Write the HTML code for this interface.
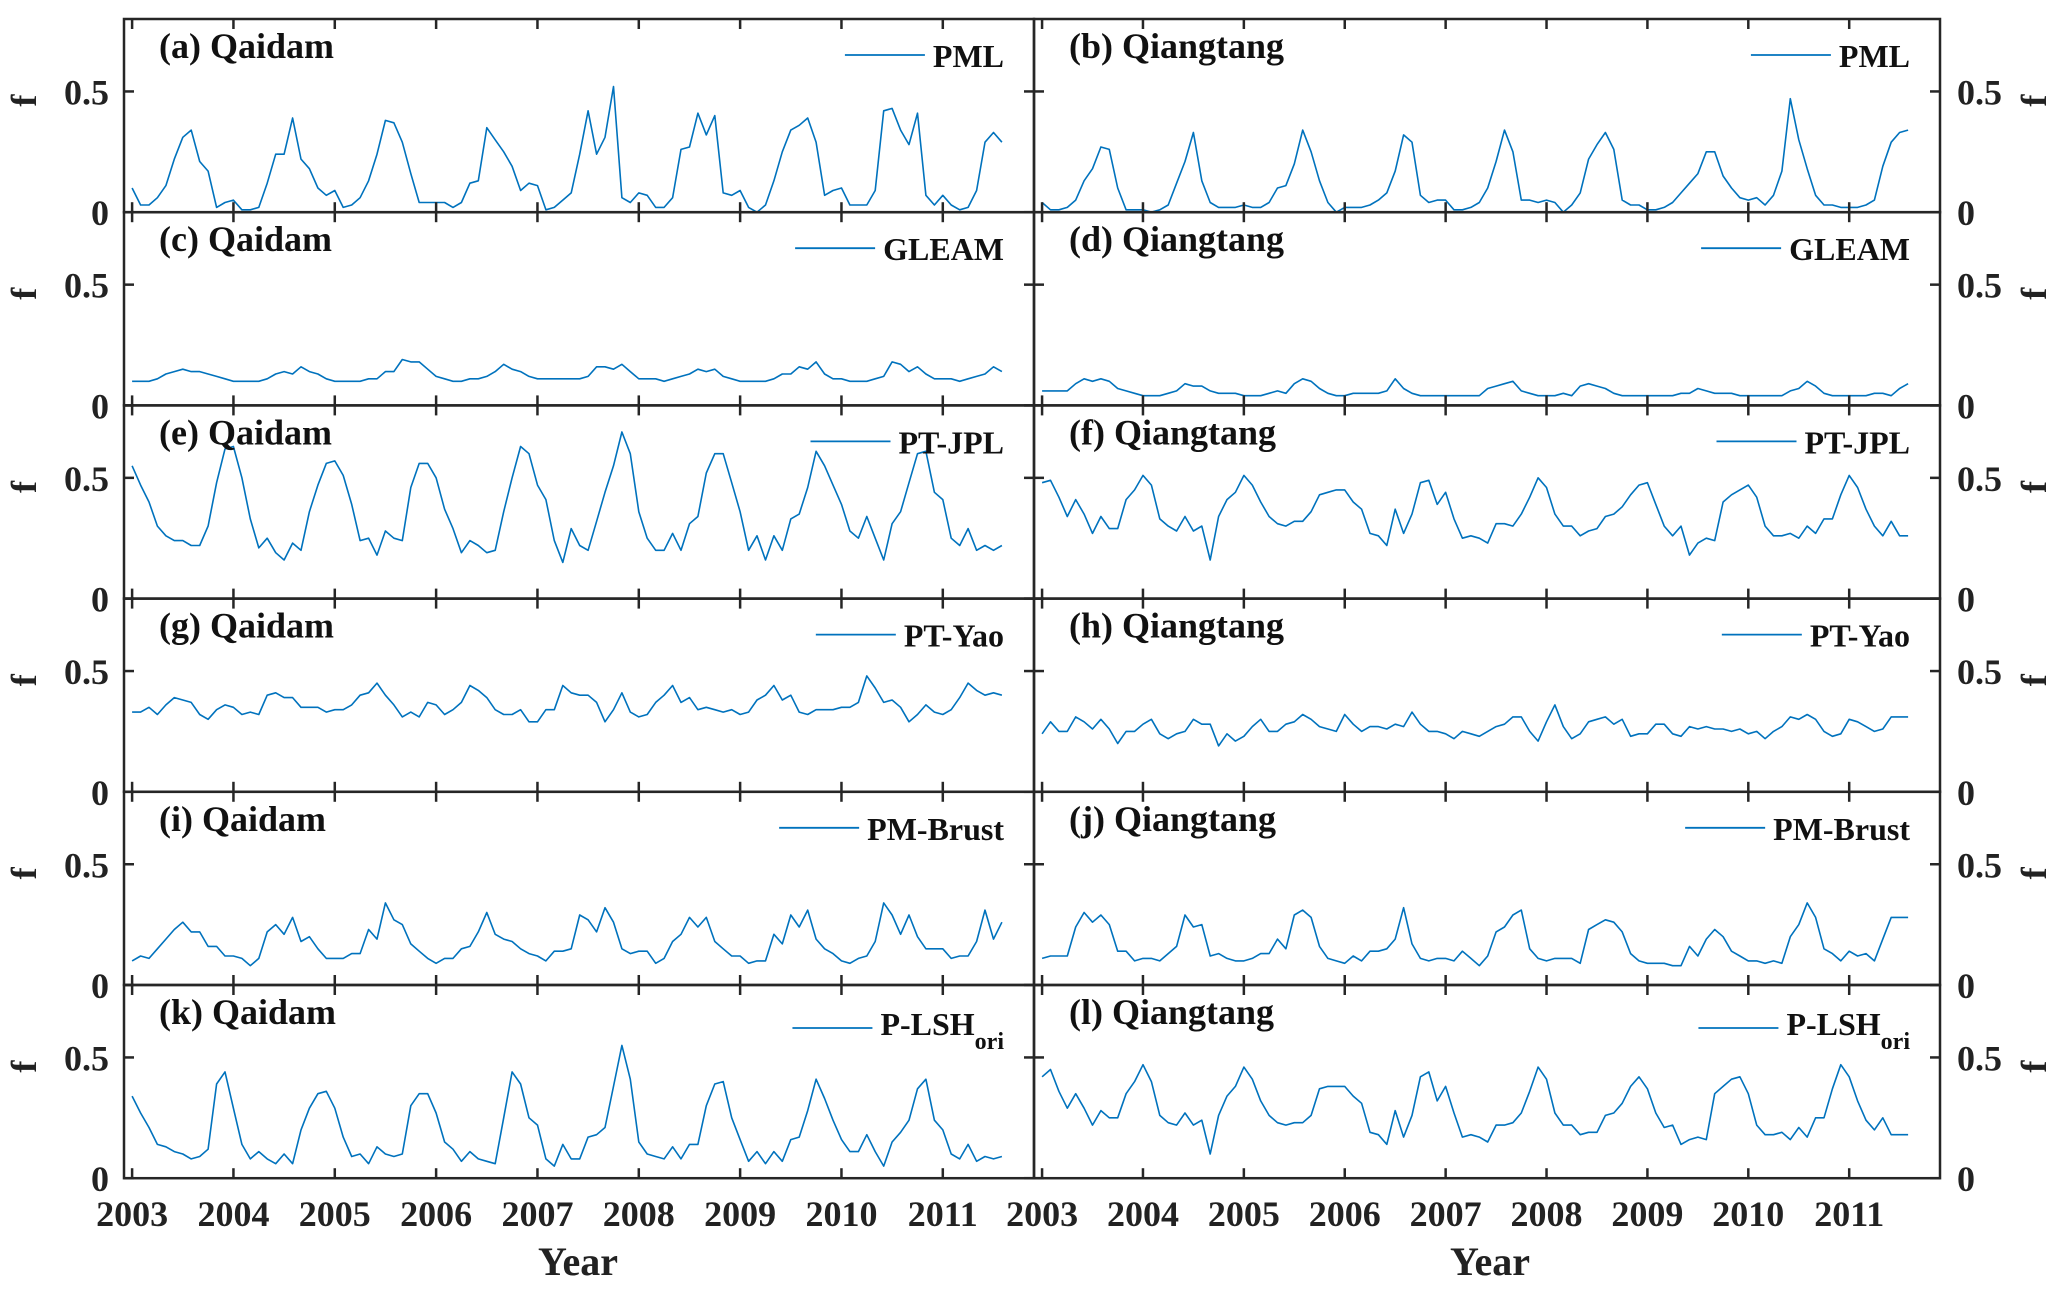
<!DOCTYPE html>
<html><head><meta charset="utf-8"><title>f time series</title>
<style>
html,body{margin:0;padding:0;background:#fff;}
svg{display:block;}
svg text{font-family:"Liberation Serif","Times New Roman","DejaVu Serif",serif;font-weight:bold;}
</style></head>
<body>
<svg id="chart" width="2067" height="1294" viewBox="0 0 2067 1294" xmlns="http://www.w3.org/2000/svg" font-family="Liberation Serif, DejaVu Serif, serif" font-weight="bold"></svg>
<script>
const yearTicks = [2003,2004,2005,2006,2007,2008,2009,2010,2011];
const yTicks = [0, 0.5];
const yTickLabels = ["0", "0.5"];
const panelLabels = ["(a) Qaidam","(b) Qiangtang","(c) Qaidam","(d) Qiangtang","(e) Qaidam","(f) Qiangtang","(g) Qaidam","(h) Qiangtang","(i) Qaidam","(j) Qiangtang","(k) Qaidam","(l) Qiangtang"];
const legendNames = ["PML","GLEAM","PT-JPL","PT-Yao","PM-Brust","P-LSH"];

const pmlQaidam = [.10,.03,.03,.06,.11,.22,.31,.34,.21,.17,.02,.04, .05,.01,.01,.02,.12,.24,.24,.39,.22,.18,.10,.07, .09,.02,.03,.06,.13,.24,.38,.37,.29,.16,.04,.04, .04,.04,.02,.04,.12,.13,.35,.30,.25,.19,.09,.12, .11,.01,.02,.05,.08,.24,.42,.24,.31,.52,.06,.04, .08,.07,.02,.02,.06,.26,.27,.41,.32,.40,.08,.07, .09,.02,.00,.03,.13,.25,.34,.36,.39,.29,.07,.09, .10,.03,.03,.03,.09,.42,.43,.34,.28,.41,.07,.03, .07,.03,.01,.02,.09,.29,.33,.29];
const pmlQiangtang = [.04,.01,.01,.02,.05,.13,.18,.27,.26,.10,.01,.01, .01,.00,.01,.03,.12,.21,.33,.13,.04,.02,.02,.02, .03,.02,.02,.04,.10,.11,.20,.34,.25,.13,.04,.00, .02,.02,.02,.03,.05,.08,.17,.32,.29,.07,.04,.05, .05,.01,.01,.02,.04,.10,.21,.34,.25,.05,.05,.04, .05,.04,.00,.03,.08,.22,.28,.33,.26,.05,.03,.03, .01,.01,.02,.04,.08,.12,.16,.25,.25,.15,.10,.06, .05,.06,.03,.07,.17,.47,.30,.18,.07,.03,.03,.02, .02,.02,.03,.05,.19,.29,.33,.34];
const gleamQaidam = [.10,.10,.10,.11,.13,.14,.15,.14,.14,.13,.12,.11, .10,.10,.10,.10,.11,.13,.14,.13,.16,.14,.13,.11, .10,.10,.10,.10,.11,.11,.14,.14,.19,.18,.18,.15, .12,.11,.10,.10,.11,.11,.12,.14,.17,.15,.14,.12, .11,.11,.11,.11,.11,.11,.12,.16,.16,.15,.17,.14, .11,.11,.11,.10,.11,.12,.13,.15,.14,.15,.12,.11, .10,.10,.10,.10,.11,.13,.13,.16,.15,.18,.13,.11, .11,.10,.10,.10,.11,.12,.18,.17,.14,.16,.13,.11, .11,.11,.10,.11,.12,.13,.16,.14];
const gleamQiangtang = [.06,.06,.06,.06,.09,.11,.10,.11,.10,.07,.06,.05, .04,.04,.04,.05,.06,.09,.08,.08,.06,.05,.05,.05, .04,.04,.04,.05,.06,.05,.09,.11,.10,.07,.05,.04, .04,.05,.05,.05,.05,.06,.11,.07,.05,.04,.04,.04, .04,.04,.04,.04,.04,.07,.08,.09,.10,.06,.05,.04, .04,.04,.05,.04,.08,.09,.08,.07,.05,.04,.04,.04, .04,.04,.04,.04,.05,.05,.07,.06,.05,.05,.05,.04, .04,.04,.04,.04,.04,.06,.07,.10,.08,.05,.04,.04, .04,.04,.04,.05,.05,.04,.07,.09];
const jplQaidam = [.55,.47,.40,.30,.26,.24,.24,.22,.22,.30,.48,.62, .63,.50,.33,.21,.25,.19,.16,.23,.20,.36,.47,.56, .57,.51,.39,.24,.25,.18,.28,.25,.24,.46,.56,.56, .50,.37,.29,.19,.24,.22,.19,.20,.36,.50,.63,.60, .47,.41,.24,.15,.29,.22,.20,.32,.44,.55,.69,.60, .36,.25,.20,.20,.27,.20,.31,.34,.52,.60,.60,.48, .36,.20,.26,.16,.26,.20,.33,.35,.46,.61,.55,.47, .39,.28,.25,.34,.25,.16,.31,.36,.48,.60,.61,.44, .41,.25,.22,.29,.20,.22,.20,.22];
const jplQiangtang = [.48,.49,.42,.34,.41,.35,.27,.34,.29,.29,.41,.45, .51,.47,.33,.30,.28,.34,.28,.30,.16,.34,.41,.44, .51,.47,.40,.34,.31,.30,.32,.32,.36,.43,.44,.45, .45,.40,.37,.27,.26,.22,.37,.27,.35,.48,.49,.39, .44,.33,.25,.26,.25,.23,.31,.31,.30,.35,.42,.50, .46,.35,.30,.30,.26,.28,.29,.34,.35,.38,.43,.47, .48,.39,.30,.26,.30,.18,.23,.25,.24,.40,.43,.45, .47,.42,.30,.26,.26,.27,.25,.30,.27,.33,.33,.43, .51,.46,.37,.30,.26,.32,.26,.26];
const yaoQaidam = [.33,.33,.35,.32,.36,.39,.38,.37,.32,.30,.34,.36, .35,.32,.33,.32,.40,.41,.39,.39,.35,.35,.35,.33, .34,.34,.36,.40,.41,.45,.40,.36,.31,.33,.31,.37, .36,.32,.34,.37,.44,.42,.39,.34,.32,.32,.34,.29, .29,.34,.34,.44,.41,.40,.40,.37,.29,.34,.41,.33, .31,.32,.37,.40,.44,.37,.39,.34,.35,.34,.33,.34, .32,.33,.38,.40,.44,.38,.40,.33,.32,.34,.34,.34, .35,.35,.37,.48,.43,.37,.38,.35,.29,.32,.36,.33, .32,.34,.39,.45,.42,.40,.41,.40];
const yaoQiangtang = [.24,.29,.25,.25,.31,.29,.26,.30,.26,.20,.25,.25, .28,.30,.24,.22,.24,.25,.30,.28,.28,.19,.24,.21, .23,.27,.30,.25,.25,.28,.29,.32,.30,.27,.26,.25, .32,.28,.25,.27,.27,.26,.28,.27,.33,.28,.25,.25, .24,.22,.25,.24,.23,.25,.27,.28,.31,.31,.25,.21, .29,.36,.27,.22,.24,.29,.30,.31,.28,.30,.23,.24, .24,.28,.28,.24,.23,.27,.26,.27,.26,.26,.25,.26, .24,.25,.22,.25,.27,.31,.30,.32,.30,.25,.23,.24, .30,.29,.27,.25,.26,.31,.31,.31];
const brustQaidam = [.10,.12,.11,.15,.19,.23,.26,.22,.22,.16,.16,.12, .12,.11,.08,.11,.22,.25,.21,.28,.18,.20,.15,.11, .11,.11,.13,.13,.23,.19,.34,.27,.25,.17,.14,.11, .09,.11,.11,.15,.16,.22,.30,.21,.19,.18,.15,.13, .12,.10,.14,.14,.15,.29,.27,.22,.32,.26,.15,.13, .14,.14,.09,.11,.18,.21,.28,.24,.28,.18,.15,.12, .12,.09,.10,.10,.21,.17,.29,.24,.31,.19,.15,.13, .10,.09,.11,.12,.18,.34,.29,.21,.29,.20,.15,.15, .15,.11,.12,.12,.18,.31,.19,.26];
const brustQiangtang = [.11,.12,.12,.12,.24,.30,.26,.29,.25,.14,.14,.10, .11,.11,.10,.13,.16,.29,.24,.25,.12,.13,.11,.10, .10,.11,.13,.13,.19,.15,.29,.31,.28,.16,.11,.10, .09,.12,.10,.14,.14,.15,.19,.32,.17,.11,.10,.11, .11,.10,.14,.11,.08,.12,.22,.24,.29,.31,.15,.11, .10,.11,.11,.11,.09,.23,.25,.27,.26,.22,.13,.10, .09,.09,.09,.08,.08,.16,.12,.19,.23,.20,.14,.12, .10,.10,.09,.10,.09,.20,.25,.34,.28,.15,.13,.10, .14,.12,.13,.10,.19,.28,.28,.28];
const lshQaidam = [.34,.27,.21,.14,.13,.11,.10,.08,.09,.12,.39,.44, .29,.14,.08,.11,.08,.06,.10,.06,.20,.29,.35,.36, .29,.17,.09,.10,.06,.13,.10,.09,.10,.30,.35,.35, .27,.15,.12,.07,.11,.08,.07,.06,.25,.44,.39,.25, .22,.08,.05,.14,.08,.08,.17,.18,.21,.38,.55,.41, .15,.10,.09,.08,.13,.08,.14,.14,.30,.39,.40,.25, .16,.07,.11,.06,.11,.07,.16,.17,.28,.41,.33,.24, .16,.11,.11,.18,.11,.05,.15,.19,.24,.37,.41,.24, .20,.10,.08,.14,.07,.09,.08,.09];
const lshQiangtang = [.42,.45,.36,.29,.35,.29,.22,.28,.25,.25,.35,.40, .47,.40,.26,.23,.22,.27,.22,.24,.10,.26,.34,.38, .46,.41,.32,.26,.23,.22,.23,.23,.26,.37,.38,.38, .38,.34,.31,.19,.18,.14,.28,.17,.26,.42,.44,.32, .38,.27,.17,.18,.17,.15,.22,.22,.23,.27,.36,.46, .41,.27,.22,.22,.18,.19,.19,.26,.27,.31,.38,.42, .37,.27,.21,.22,.14,.16,.17,.16,.35,.38,.41,.42, .35,.22,.18,.18,.19,.16,.21,.17,.25,.25,.37,.47, .42,.32,.24,.20,.25,.18,.18,.18];

const seriesList = [pmlQaidam,pmlQiangtang,gleamQaidam,gleamQiangtang,jplQaidam,jplQiangtang,yaoQaidam,yaoQiangtang,brustQaidam,brustQiangtang,lshQaidam,lshQiangtang];

const NS = "http://www.w3.org/2000/svg";
const svg = document.getElementById("chart");
const X0 = 2002.92, X1 = 2011.9, YMAX = 0.8;
const colL = [124, 1034], colR = [1034, 1940];
const TOP = 19, PH = 193.2;
const AX = "#262626", BLUE = "#0072BD";
const FONT = "Liberation Serif, DejaVu Serif, serif";

function mk(tag, attrs, parent){ const e=document.createElementNS(NS,tag); for(const k in attrs) e.setAttribute(k,attrs[k]); if(tag==="text"){ e.setAttribute("font-family",FONT); e.setAttribute("font-weight","bold"); } (parent||svg).appendChild(e); return e; }
function xScale(t, col){ const [a,b]=col===0?colL:colR; return a+(t-X0)/(X1-X0)*(b-a); }
function yScale(v, row){ const bottom=TOP+(row+1)*PH; return bottom - v/YMAX*PH; }

for(let p=0;p<12;p++){
  const row=Math.floor(p/2), col=p%2;
  const [xa,xb]=col===0?colL:colR;
  const yt=TOP+row*PH, yb=yt+PH;
  const g=mk("g",{});
  
  
  const data=seriesList[p];
  let d="";
  data.forEach((v,i)=>{ const t=2003+i/12; d+=(i?"L":"M")+xScale(t,col).toFixed(1)+","+yScale(v,row).toFixed(1); });
  const line=mk("path",{d:d,fill:"none",stroke:BLUE,"stroke-width":1.6,"stroke-linejoin":"round"},g);
  
  
  const fr=mk("rect",{x:xa,y:yt,width:xb-xa,height:PH,fill:"none",stroke:AX,"stroke-width":2.5},g);
  
  
  yearTicks.forEach(yr=>{
    const x=xScale(yr,col);
    mk("line",{x1:x,y1:yb,x2:x,y2:yb-10,stroke:AX,"stroke-width":2.5},g);
    mk("line",{x1:x,y1:yt,x2:x,y2:yt+10,stroke:AX,"stroke-width":2.5},g);
  });
  yTicks.forEach((v,k)=>{
    const y=yScale(v,row);
    mk("line",{x1:xa,y1:y,x2:xa+10,y2:y,stroke:AX,"stroke-width":2.5},g);
    mk("line",{x1:xb,y1:y,x2:xb-10,y2:y,stroke:AX,"stroke-width":2.5},g);
    const lab=mk("text",{x:col===0?xa-15:xb+17,y:y+13,"font-size":36,"text-anchor":col===0?"end":"start",fill:"#222"},g);
    lab.textContent=yTickLabels[k];
    
    
  });
  const fx=col===0?36:2046, fy=yt+PH/2-15;
  const fl=mk("text",{x:fx,y:fy,"font-size":36,"text-anchor":"middle",fill:"#222",transform:`rotate(-90 ${fx} ${fy})`},g);
  fl.textContent="f";
  
  
  const pl=mk("text",{x:xa+35,y:yt+39,"font-size":36,fill:"#111"},g);
  pl.textContent=panelLabels[p];
  
  
  const name=legendNames[row];
  const lg=mk("g",{},g);
  
  
  const isLsh=row===5;
  const tx=mk("text",{x:xb-30,y:yt+(isLsh?50:48),"font-size":32,"text-anchor":"end",fill:"#111"},lg);
  if(isLsh){
    const t1=document.createElementNS(NS,"tspan"); tx.appendChild(t1); t1.textContent=name;
    const t2=document.createElementNS(NS,"tspan"); t2.setAttribute("font-size",24); t2.setAttribute("dy",14); tx.appendChild(t2); t2.textContent="ori";
  } else tx.textContent=name;
  const w=tx.getComputedTextLength ? tx.getComputedTextLength() : 70;
  const lx2=xb-30-w-8;
  mk("line",{x1:lx2-80,y1:yt+(isLsh?43:36),x2:lx2,y2:yt+(isLsh?43:36),stroke:BLUE,"stroke-width":1.8},lg);
}
[0,1].forEach(col=>{
  yearTicks.forEach(yr=>{
    const t=mk("text",{x:xScale(yr,col),y:1226,"font-size":36,"text-anchor":"middle",fill:"#222"});
    t.textContent=String(yr);
    
    
  });
  const yt=mk("text",{x:col===0?578:1490,y:1275,"font-size":40,"text-anchor":"middle",fill:"#222"});
  yt.textContent="Year";
  
  
});
</script>
</body></html>
